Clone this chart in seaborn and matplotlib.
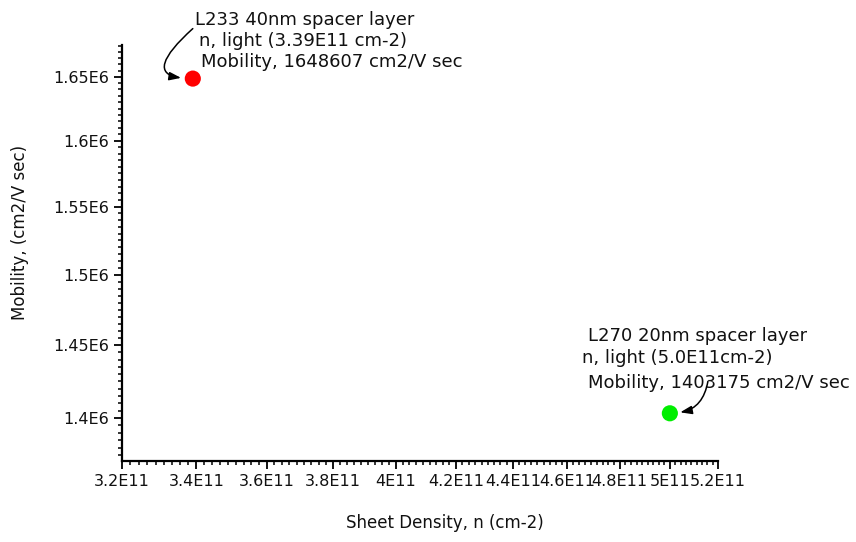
import numpy as np
import pandas as pd
import matplotlib
matplotlib.use("Agg")
import matplotlib.pyplot as plt
from matplotlib.ticker import FixedLocator, FixedFormatter, NullFormatter
import seaborn as sns

# Measured Hall data for the two samples
samples = ["L233", "L270"]
sheet_density = [3.39e11, 5.0e11]          # n, light (cm-2)
mobility = [1648607, 1403175]              # cm2/V sec
point_colors = ["#ff0000", "#00ee00"]
note_lines = [
    ["L233 40nm spacer layer", "n, light (3.39E11 cm-2)", "Mobility, 1648607 cm2/V sec"],
    ["L270 20nm spacer layer", "n, light (5.0E11cm-2)", "Mobility, 1403175 cm2/V sec"],
]

x_ticks = [3.2e11, 3.4e11, 3.6e11, 3.8e11, 4.0e11, 4.2e11, 4.4e11, 4.6e11, 4.8e11, 5.0e11, 5.2e11]
x_tick_labels = ["3.2E11", "3.4E11", "3.6E11", "3.8E11", "4E11", "4.2E11",
                 "4.4E11", "4.6E11", "4.8E11", "5E11", "5.2E11"]
y_ticks = [1.40e6, 1.45e6, 1.50e6, 1.55e6, 1.60e6, 1.65e6]
y_tick_labels = ["1.4E6", "1.45E6", "1.5E6", "1.55E6", "1.6E6", "1.65E6"]
x_limits = (3.2e11, 5.2e11)
y_limits = (1.3713e6, 1.6755e6)

df = pd.DataFrame({"sample": samples, "n": sheet_density, "mu": mobility})

sns.set_style("ticks")
plt.rcParams["font.family"] = ["DejaVu Sans"]

W, H = 856, 542
fig = plt.figure(figsize=(W / 100, H / 100), dpi=100)
ax = fig.add_axes([122 / W, 1 - 461 / H, (718 - 122) / W, (461 - 45) / H])

sns.scatterplot(data=df, x="n", y="mu", hue="sample", palette=point_colors,
                s=135, linewidth=0, legend=False, ax=ax, zorder=3, clip_on=False)

ax.set_xscale("log")
ax.set_yscale("log")
ax.set_xlim(*x_limits)
ax.set_ylim(*y_limits)

# major ticks with scientific labels, evenly spaced minor ticks in between
ax.xaxis.set_major_locator(FixedLocator(x_ticks))
ax.xaxis.set_major_formatter(FixedFormatter(x_tick_labels))
x_minor = []
for a, b in zip(x_ticks[:-1], x_ticks[1:]):
    x_minor.extend(np.linspace(a, b, 10)[1:-1])
ax.xaxis.set_minor_locator(FixedLocator(x_minor))
ax.xaxis.set_minor_formatter(NullFormatter())

ax.yaxis.set_major_locator(FixedLocator(y_ticks))
ax.yaxis.set_major_formatter(FixedFormatter(y_tick_labels))
y_step = (y_ticks[1] - y_ticks[0]) / 10
y_minor = [v for v in np.arange(1.375e6, y_limits[1], y_step)
           if min(abs(v - t) for t in y_ticks) > y_step / 4]
ax.yaxis.set_minor_locator(FixedLocator(y_minor))
ax.yaxis.set_minor_formatter(NullFormatter())

ax.tick_params(axis="both", which="major", direction="out", length=5.5, width=1.3,
               labelsize=11.5, pad=3.5, color="black", labelcolor="#111111")
ax.tick_params(axis="both", which="minor", direction="out", length=3, width=1.1,
               color="black")

sns.despine(ax=ax)
for side in ("left", "bottom"):
    ax.spines[side].set_linewidth(1.6)
    ax.spines[side].set_color("black")

ax.set_xlabel("Sheet Density, n (cm-2)", fontsize=12, color="#111111")
ax.set_ylabel("Mobility, (cm2/V sec)", fontsize=12, color="#111111")
ax.xaxis.set_label_coords(0.542, -0.149)
ax.xaxis.label.set_va("center")
ax.yaxis.set_label_coords(-0.171, 0.55)
ax.yaxis.label.set_va("center")

# text notes beside each point (offsets in points from the marker)
text_offsets = [
    [(1.4, 38.9), (4.6, 23.3), (5.8, 8.1)],
    [(-58.8, 52.1), (-62.9, 36.0), (-58.8, 18.0)],
]
for x, y, lines, offs in zip(sheet_density, mobility, note_lines, text_offsets):
    for line, off in zip(lines, offs):
        ax.annotate(line, xy=(x, y), xytext=off, textcoords="offset points",
                    ha="left", va="baseline", fontsize=13, color="#111111",
                    annotation_clip=False)

# curved pointer arrows from the notes to the markers
arrow_specs = [
    dict(tail=(0, 36), conn="angle3,angleA=222,angleB=0", shrink=8.5),
    dict(tail=(27.4, 23.0), conn="angle3,angleA=260,angleB=0", shrink=7.5),
]
for x, y, spec in zip(sheet_density, mobility, arrow_specs):
    ax.annotate("", xy=(x, y), xytext=spec["tail"], textcoords="offset points",
                annotation_clip=False,
                arrowprops=dict(arrowstyle="-|>,head_length=0.7,head_width=0.25",
                                connectionstyle=spec["conn"], color="black",
                                lw=1.1, shrinkA=0, shrinkB=spec["shrink"],
                                mutation_scale=10))

fig.savefig("out.png", dpi=100, facecolor="white")
